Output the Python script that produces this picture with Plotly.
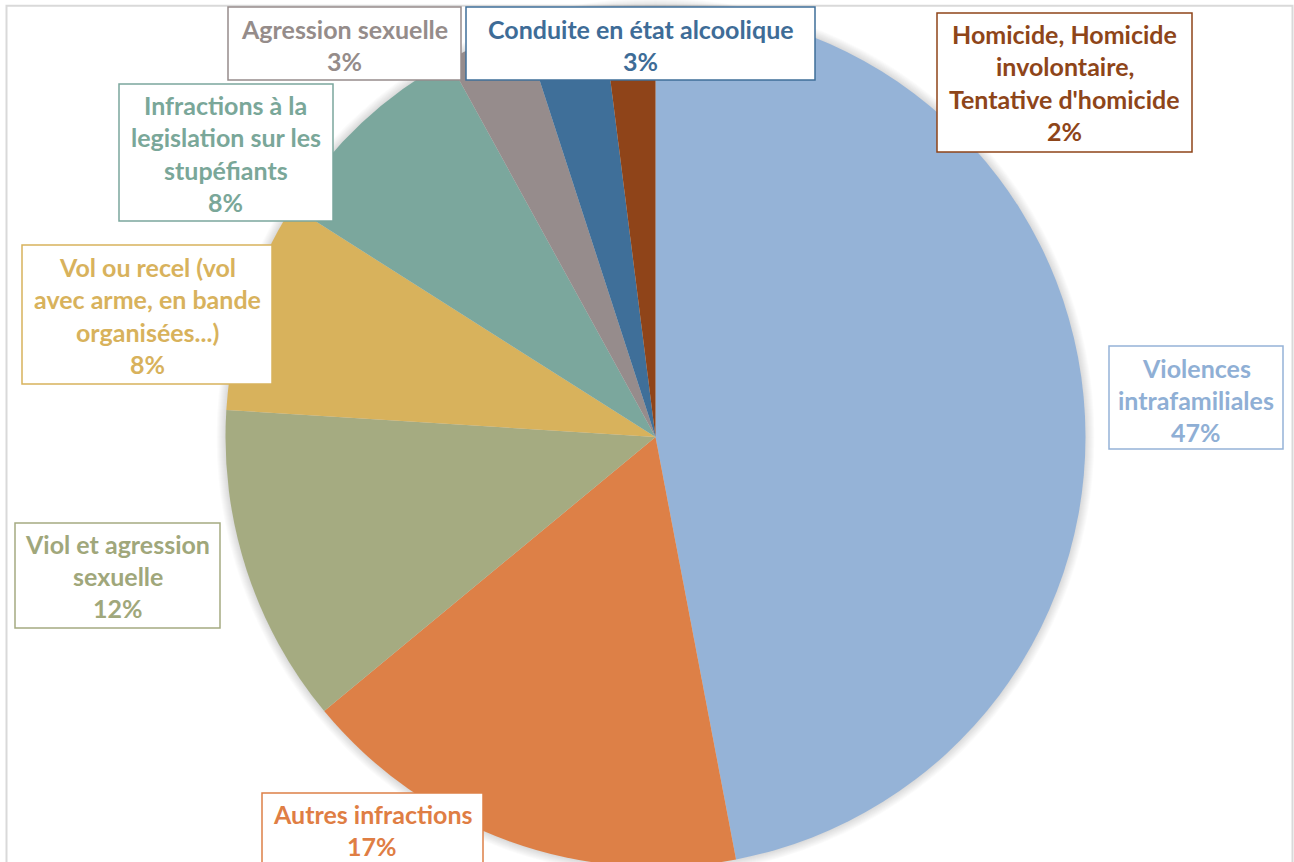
import plotly.graph_objects as go

# Offence categories, share of cases (%), and how each label wraps
categories = [
    "Violences intrafamiliales",
    "Autres infractions",
    "Viol et agression sexuelle",
    "Vol ou recel (vol avec arme, en bande organisées...)",
    "Infractions à la legislation sur les stupéfiants",
    "Agression sexuelle",
    "Conduite en état alcoolique",
    "Homicide, Homicide involontaire, Tentative d'homicide",
]
values = [47, 17, 12, 8, 8, 3, 3, 2]
label_lines = [
    ["Violences", "intrafamiliales"],
    ["Autres infractions"],
    ["Viol et agression", "sexuelle"],
    ["Vol ou recel (vol", "avec arme, en bande", "organisées...)"],
    ["Infractions à la", "legislation sur les", "stupéfiants"],
    ["Agression sexuelle"],
    ["Conduite en état alcoolique"],
    ["Homicide, Homicide", "involontaire,", "Tentative d'homicide"],
]

slice_colors = ["#95B3D7", "#DD8047", "#A5AB81", "#D8B25C",
                "#7BA79D", "#968C8C", "#3F6F99", "#8F4419"]
text_colors = ["#8FAFD5", "#DF7E44", "#A0A77B", "#D8B25C",
               "#7AA799", "#958C8A", "#3E6C97", "#8E4519"]

# Label box layout in pixels: x0, x1, y0 (top), y1 (bottom), first-line centre
boxes = [
    (1109, 1283, 346, 449, 367.5),
    (262, 483, 793, 872, 813.5),
    (15, 220, 523, 628, 543.5),
    (22, 272, 245, 384, 267),
    (119, 333, 84, 221, 105),
    (228, 461, 7, 80, 29),
    (466, 815, 7, 80, 28.5),
    (937, 1192, 13, 152, 34),
]
LINE_STEP = 32.4

W, H = 1294, 872
CX, CY, R = 655.5, 437, 430


def px(x):
    return x / W


def py(y):
    return 1 - y / H


fig = go.Figure(
    go.Pie(
        labels=categories,
        values=values,
        sort=False,
        direction="clockwise",
        rotation=0,
        marker=dict(colors=slice_colors, line=dict(width=0)),
        textinfo="none",
        hoverinfo="label+percent",
        showlegend=False,
        domain=dict(x=[px(CX - R - 6), px(CX + R + 6)],
                    y=[py(CY + R), py(CY - R)]),
    )
)

shapes = []

# outer chart frame
shapes.append(dict(type="rect", xref="paper", yref="paper",
                   x0=px(6.5), x1=px(1292.5), y0=py(900), y1=py(5.8),
                   line=dict(color="#D9D9D9", width=2), fillcolor="rgba(0,0,0,0)",
                   layer="below"))

# soft shadow around the pie
for k in range(9, 0, -1):
    rr = R + k
    shapes.append(dict(type="circle", xref="paper", yref="paper",
                       x0=px(CX - rr), x1=px(CX + rr), y0=py(CY + rr), y1=py(CY - rr),
                       line=dict(width=0), fillcolor="rgba(0,0,0,0.016)",
                       layer="below"))

annotations = []
total = sum(values)
for i, (lines, val) in enumerate(zip(label_lines, values)):
    x0, x1, y0, y1, first = boxes[i]
    shapes.append(dict(type="rect", xref="paper", yref="paper",
                       x0=px(x0), x1=px(x1), y0=py(y1), y1=py(y0),
                       line=dict(color=slice_colors[i], width=1.5),
                       fillcolor="white", layer="above"))
    pct = f"{round(val / total * 100)}%"
    for j, t in enumerate(lines + [pct]):
        annotations.append(dict(
            x=px((x0 + x1) / 2), y=py(first + j * LINE_STEP),
            xref="paper", yref="paper", xanchor="center", yanchor="middle",
            text=t, showarrow=False,
            font=dict(family="Lato", size=25, color=text_colors[i], weight="bold"),
        ))

fig.update_layout(
    width=W, height=H,
    margin=dict(l=0, r=0, t=0, b=0),
    paper_bgcolor="white",
    plot_bgcolor="white",
    shapes=shapes,
    annotations=annotations,
)

fig.write_html(
    "out.html",
    post_script=(
        "document.documentElement.style.overflow='hidden';"
        "document.body.style.overflow='hidden';"
        "document.body.style.margin='0';"
    ),
)
